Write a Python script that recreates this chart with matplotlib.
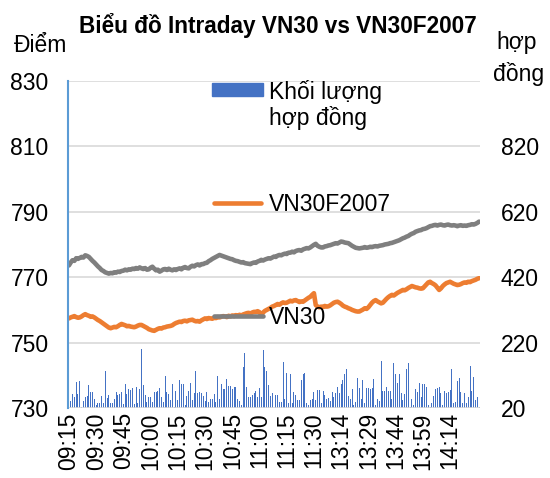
import matplotlib
matplotlib.use("Agg")
import matplotlib.pyplot as plt
from matplotlib.lines import Line2D
from matplotlib.patches import Rectangle

plt.rcParams["font.family"] = ["Liberation Sans", "DejaVu Sans"]

# VN30 index, one value per minute (09:15-11:30, 13:00-14:30)
vn30 = [
    773.6, 774.5, 775.2, 775.0, 775.8, 775.6, 775.9, 776.2, 776.0, 776.7,
    776.5, 776.2, 775.6, 775.0, 774.5, 773.9, 773.3, 772.8, 772.2, 771.9,
    771.5, 771.3, 771.1, 771.3, 771.2, 771.5, 771.4, 771.7, 771.6, 771.9,
    772.0, 772.3, 772.1, 772.4, 772.3, 772.6, 772.5, 772.8, 772.6, 773.0,
    772.7, 772.5, 772.8, 772.3, 772.4, 772.9, 773.2, 772.6, 772.1, 772.3,
    771.7, 772.0, 772.4, 772.5, 772.2, 772.6, 772.3, 772.1, 772.4, 772.2,
    772.5, 772.7, 772.4, 772.9, 773.1, 772.8, 772.7, 773.2, 773.5, 773.3,
    773.7, 773.9, 773.6, 774.0, 774.0, 774.3, 774.4, 774.9, 775.2, 775.6,
    775.9, 776.2, 776.5, 776.8, 776.6, 776.4, 776.2, 776.0, 775.8, 775.6,
    775.5, 775.2, 775.0, 774.9, 774.7, 774.5, 774.6, 774.3, 774.2, 774.1,
    774.0, 774.3, 774.5, 774.4, 774.8, 775.0, 775.3, 775.1, 775.4, 775.6,
    775.8, 775.7, 776.0, 776.3, 776.2, 776.6, 776.8, 776.7, 777.0, 777.2,
    777.1, 777.5, 777.5, 777.8, 777.6, 778.0, 778.2, 778.3, 778.1, 778.5,
    778.7, 778.9, 778.8, 779.1, 779.5, 779.9,
    780.2, 779.6, 779.3, 779.1, 779.1, 779.4, 779.5, 779.7, 779.8, 780.0,
    780.2, 780.4, 780.3, 780.6, 780.9, 780.8, 780.6, 780.5, 780.4, 780.0,
    779.6, 779.3, 779.0, 778.9, 778.8, 778.9, 779.0, 779.2, 779.0, 779.1,
    779.3, 779.2, 779.4, 779.5, 779.4, 779.6, 779.7, 779.8, 780.0, 780.1,
    780.2, 780.4, 780.5, 780.7, 780.9, 781.1, 781.3, 781.6, 781.9, 782.1,
    782.4, 782.6, 783.0, 783.3, 783.5, 783.9, 784.1, 784.3, 784.4, 784.7,
    784.8, 785.0, 785.3, 785.6, 785.7, 785.9, 786.0, 785.8, 786.0, 786.1,
    785.9, 785.8, 786.0, 786.1, 785.9, 785.8, 785.9, 785.8, 785.6, 785.8,
    785.9, 785.7, 785.8, 785.7, 785.9, 786.0, 786.2, 786.1, 786.3, 786.6, 787.0,
]

# VN30F2007 futures price
vn30f = [
    757.4, 757.7, 757.9, 758.1, 757.8, 757.6, 757.7, 758.0, 758.4, 758.7,
    758.4, 758.2, 757.9, 758.0, 757.7, 757.3, 756.9, 756.6, 756.2, 755.8,
    755.4, 755.0, 754.6, 754.4, 754.6, 754.8, 754.7, 755.0, 755.4, 755.7,
    755.5, 755.3, 755.0, 755.1, 754.9, 754.8, 754.7, 754.9, 755.2, 755.4,
    755.4, 755.1, 754.8, 754.5, 754.1, 753.9, 753.7, 753.6, 753.9, 754.2,
    754.4, 754.3, 754.6, 754.7, 754.9, 755.0, 755.1, 755.3, 755.7, 756.0,
    756.2, 756.4, 756.3, 756.6, 756.7, 756.5, 756.8, 756.9, 757.0, 756.7,
    756.5, 756.6, 756.4, 756.8, 757.1, 757.4, 757.2, 757.5, 757.4, 757.3,
    757.6, 757.5, 757.8, 757.7, 757.9, 758.1, 758.0, 757.8, 758.2, 758.0,
    758.3, 758.1, 758.4, 758.2, 758.5, 758.3, 758.6, 758.8, 759.0, 759.1,
    758.9, 759.2, 759.4, 759.4, 759.6, 759.3, 758.4, 759.2, 759.7, 760.0,
    760.3, 760.6, 761.0, 761.2, 761.5, 761.8, 761.6, 762.0, 762.3, 762.1,
    762.2, 762.5, 762.8, 762.6, 762.9, 763.0, 762.7, 762.4, 762.6, 762.5,
    762.9, 763.3, 763.7, 764.0, 764.6, 765.1,
    761.5, 761.0, 760.8, 761.0, 760.9, 761.2, 761.0, 761.1, 761.4, 761.8,
    762.2, 762.4, 762.5, 762.2, 761.8, 761.3, 761.0, 760.8, 760.5, 760.3,
    760.0, 759.8, 759.6, 759.5, 759.5, 759.8, 760.1, 760.5, 760.3, 760.8,
    761.5, 762.2, 762.7, 763.0, 762.6, 762.3, 762.0, 762.2, 762.8, 763.4,
    763.9, 764.3, 764.6, 764.4, 764.8, 765.2, 765.5, 765.8, 766.1, 766.0,
    766.3, 766.7, 767.0, 767.3, 767.1, 766.9, 766.8, 766.6, 766.5, 766.6,
    767.2, 767.8, 768.4, 768.6, 768.2, 767.9, 767.5, 766.8, 766.1, 766.6,
    767.3, 767.8, 768.2, 768.4, 768.6, 768.3, 768.0, 767.8, 767.6, 767.7,
    767.9, 768.2, 768.4, 768.3, 768.6, 768.5, 768.8, 769.0, 769.2, 769.5, 769.7,
]

# contracts traded per minute
volume = [
    75, 41, 63, 55, 100, 63, 103, 24, 41, 55, 58, 90, 68, 68, 47, 29, 34, 34,
    58, 34, 134, 52, 60, 34, 36, 46, 68, 60, 63, 70, 31, 93, 62, 77, 75, 80,
    31, 85, 34, 78, 200, 90, 60, 39, 55, 53, 39, 68, 70, 72, 80, 55, 39, 118,
    68, 62, 44, 93, 24, 72, 44, 106, 93, 93, 29, 58, 72, 97, 44, 67,
    134, 65, 68, 67, 57, 41, 68, 39, 46, 46, 62, 39, 118, 49, 93, 77, 77, 108,
    88, 87, 77, 83, 85, 49, 42, 29, 146, 187, 83, 55, 55, 60, 65, 73, 53, 80,
    53, 197, 146, 133, 90, 57, 65, 36, 60, 60, 39, 39, 160, 49, 128, 34, 124,
    34, 68, 60, 44, 44, 106, 124, 126, 36, 29, 44, 46, 68, 44, 75, 75, 34, 72,
    60, 48, 52, 40,
    70, 55, 67, 85, 65, 92, 106, 124, 139, 57, 46, 78, 29, 39, 111, 80, 49,
    106, 36, 80, 80, 78, 80, 108, 29, 49, 41, 164, 72, 72, 85, 73, 73, 46, 157,
    124, 95, 124, 67, 44, 63, 139, 157, 24, 46, 29, 78, 68, 95, 55, 92, 92, 85,
    29, 24, 34, 57, 78, 80, 83, 65, 29, 72, 65, 70, 75, 138, 34, 39, 104, 111,
    68, 34, 65, 34, 55, 148, 73, 114, 44, 53, 24,
]

times = ([f"{(555 + k) // 60:02d}:{(555 + k) % 60:02d}" for k in range(136)]
         + [f"{(780 + k) // 60:02d}:{(780 + k) % 60:02d}" for k in range(91)])

# labels shown on the category axis (every 15th point, up to 14:14)
tick_labels = ["09:15", "09:30", "09:45", "10:00", "10:15", "10:30", "10:45",
               "11:00", "11:15", "11:30", "13:14", "13:29", "13:44", "13:59", "14:14"]

price_ticks = [730, 750, 770, 790, 810, 830]
volume_ticks = [20, 220, 420, 620, 820]

W, H = 550, 478
FS = 16.5


def fx(x):
    return x / W


def fy(y):
    return 1 - y / H


fig = plt.figure(figsize=(W / 100, H / 100), dpi=100)
ax = fig.add_axes([fx(68), fy(408), 412 / W, 327 / H])
axv = ax.twinx()
ax.set_zorder(2)
axv.set_zorder(1)
ax.patch.set_visible(False)

x = list(range(len(times)))

axv.bar(x, volume, width=0.55, color="#4472C4", linewidth=0)
axv.set_ylim(20, 1020)
axv.set_yticks(volume_ticks)

ax.plot(x, vn30, color="#7F7F7F", lw=3.3, solid_capstyle="round")
ax.plot(x, vn30f, color="#ED7D31", lw=3.3, solid_capstyle="round")
ax.set_ylim(730, 830)
ax.set_yticks(price_ticks)
ax.set_xlim(-0.5, len(times) - 0.5)
ax.set_xticks([times.index(t) for t in tick_labels])
ax.set_xticklabels(tick_labels)
ax.grid(axis="y", color="#D9D9D9", lw=1.2)

for a in (ax, axv):
    for s in a.spines.values():
        s.set_visible(False)
ax.spines["left"].set_visible(True)
ax.spines["left"].set_color("#5B9BD5")
ax.spines["left"].set_linewidth(1.5)

ax.tick_params(axis="y", length=0, pad=14, labelsize=FS)
ax.tick_params(axis="x", length=0, pad=3, labelsize=FS, labelrotation=90)
axv.tick_params(axis="y", length=0, pad=15, labelsize=FS)

fig.text(fx(278), fy(33), "Biểu đồ Intraday VN30 vs VN30F2007",
         ha="center", va="baseline", fontsize=16.3, fontweight="bold")
fig.text(fx(41), fy(52), "Điểm", ha="center", va="baseline", fontsize=FS)
fig.text(fx(517), fy(49), "hợp", ha="center", va="baseline", fontsize=FS)
fig.text(fx(519), fy(81), "đồng", ha="center", va="baseline", fontsize=FS)

# legend entries drawn inside the plot area like the original
fig.add_artist(Rectangle((fx(212), fy(96)), 51 / W, 13 / H,
                         transform=fig.transFigure, color="#4472C4", zorder=5))
fig.add_artist(Line2D([fx(214), fx(261)], [fy(203), fy(203)], transform=fig.transFigure,
                      color="#ED7D31", lw=3.3, solid_capstyle="round", zorder=5))
fig.add_artist(Line2D([fx(214), fx(263)], [fy(316), fy(316)], transform=fig.transFigure,
                      color="#7F7F7F", lw=3.3, solid_capstyle="round", zorder=5))
fig.text(fx(269), fy(99), "Khối lượng", va="baseline", fontsize=FS, zorder=6)
fig.text(fx(269), fy(125), "hợp đồng", va="baseline", fontsize=FS, zorder=6)
fig.text(fx(269), fy(211), "VN30F2007", va="baseline", fontsize=FS, zorder=6)
fig.text(fx(269), fy(324), "VN30", va="baseline", fontsize=FS, zorder=6)

fig.savefig("out.png", dpi=100)
